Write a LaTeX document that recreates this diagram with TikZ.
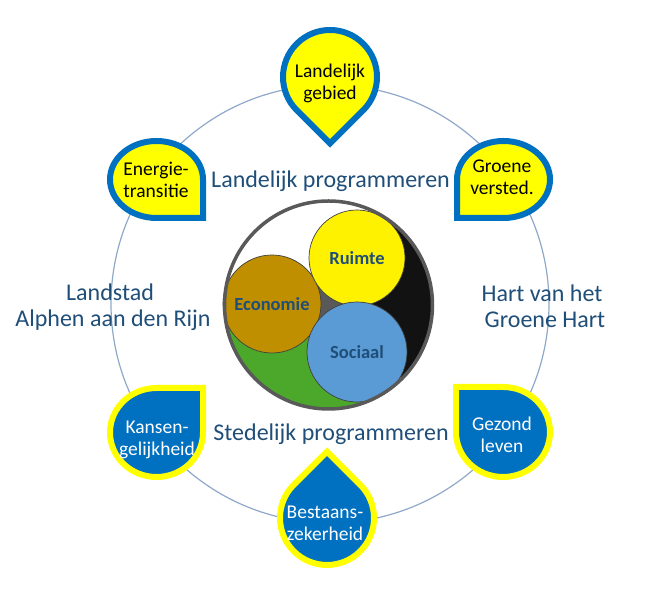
\documentclass[tikz,border=0pt]{standalone}
\usepackage{fontspec}
\setmainfont{Carlito}
\definecolor{dropblue}{HTML}{0070C0}
\definecolor{dropyellow}{HTML}{FFFF00}
\definecolor{labelblue}{HTML}{1F4E79}
\definecolor{ringcol}{HTML}{8FA8C8}
\definecolor{econbrown}{HTML}{BF8F00}
\definecolor{socblue}{HTML}{5B9BD5}
\definecolor{greenc}{HTML}{4CA82A}
\newcommand\teardrop[6]{%
  \begin{scope}[shift={(#1,#2)},rotate=#5,xscale=#3,yscale=#4]
    \draw[#6] (0,1) -- (1,1) -- (1,0) arc[start angle=0,end angle=-270,radius=1pt] -- cycle;
  \end{scope}}
\begin{document}
\begin{tikzpicture}[x=1pt,y=1pt,
  yellowdrop/.style={fill=dropyellow,draw=dropblue,line width=6pt},
  bluedrop/.style={fill=dropblue,draw=dropyellow,line width=6pt},
  droptext/.style={align=center,inner sep=0pt,font=\fontsize{19.5}{22}\selectfont},
  lbl/.style={align=center,inner sep=0pt,text=labelblue,font=\fontsize{24}{28}\selectfont},
  ctext/.style={circle,inner sep=0pt,text=labelblue,draw=black!75,line width=0.7pt,font=\bfseries\fontsize{18.5}{20}\selectfont}]
\useasboundingbox (0,0) rectangle (665,596);
% outer ring
\draw[ringcol,line width=1.2pt] (330,292) circle[radius=219pt];
% central disc
\coordinate (C) at (328.5,291);
\fill[white] (C) circle[radius=104pt];
\fill[greenc] (C) -- ++(190:104pt) arc[start angle=190,end angle=315,radius=104pt] -- cycle;
\fill[black!93] (C) -- ++(-45:104pt) arc[start angle=-45,end angle=65,radius=104pt] -- cycle;
\fill[gray!70!black] (C) circle[radius=30pt];
\node[ctext,minimum size=98pt,fill=econbrown] (econ) at (272,292) {Economie};
\node[ctext,minimum size=96pt,fill=yellow] (ruimte) at (357,338) {Ruimte};
\node[ctext,minimum size=100pt,fill=socblue] (soc) at (357,244) {Sociaal};
\draw[gray!70!black,line width=3.5pt] (C) circle[radius=104pt];
% drops
\teardrop{330}{519}{47}{47}{-135}{yellowdrop}
\teardrop{156.5}{416.5}{46.5}{-38.5}{0}{yellowdrop}
\teardrop{503.5}{416.5}{-46.5}{-38.5}{0}{yellowdrop}
\teardrop{156.5}{163.5}{46.5}{44.5}{0}{bluedrop}
\teardrop{503}{164}{-47}{45}{0}{bluedrop}
\teardrop{327}{78}{47}{47}{45}{bluedrop}
\node[droptext] (lg) at (330,513) {Landelijk\\gebied};
\node[droptext] (et) at (156,416) {Energie-\\transitie};
\node[droptext] (gv) at (502,419) {Groene\\versted.};
\node[droptext,text=white] (kg) at (157,156) {Kansen-\\gelijkheid};
\node[droptext,text=white] (gl) at (502,161) {Gezond\\leven};
\node[droptext,text=white] (bz) at (325,73) {Bestaans-\\zekerheid};
% labels
\node[lbl] (lp) at (330.5,415) {Landelijk programmeren};
\node[lbl] (sp) at (331,162) {Stedelijk programmeren};
\node[lbl] (ls) at (110,304) {Landstad};
\node[lbl] (ar) at (113,276) {Alphen aan den Rijn};
\node[lbl] (hh1) at (542,303) {Hart van het};
\node[lbl] (hh2) at (545,276) {Groene Hart};
\end{tikzpicture}
\end{document}
